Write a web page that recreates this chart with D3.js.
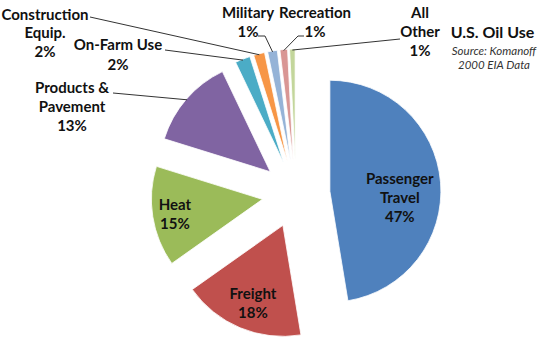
<!DOCTYPE html>
<html>
<head>
<meta charset="utf-8">
<script src="https://cdn.jsdelivr.net/npm/d3@7/dist/d3.min.js"></script>
<style>
  html, body { margin: 0; padding: 0; background: #fff; }
  svg { display: block; }
  text { font-family: Lato, "Open Sans", sans-serif; }
</style>
</head>
<body>
<svg id="chart" width="550" height="352"></svg>
<script>
// ---- data ----
const categories = ["Passenger Travel", "Freight", "Heat", "Products & Pavement",
  "On-Farm Use", "Construction Equip.", "Military", "Recreation", "All Other"];
const values = [47.4, 17.8, 14.6, 13.1, 2.2, 1.6, 1.4, 1.1, 0.8];
const labelLines = [["Passenger", "Travel"], ["Freight"], ["Heat"], ["Products &", "Pavement"],
  ["On-Farm Use"], ["Construction", "Equip."], ["Military"], ["Recreation"], ["All", "Other"]];
const colors = ["#4F81BD", "#C0504D", "#9BBB59", "#8064A2", "#4BACC6", "#F79646",
  "#95B3D7", "#D99694", "#C3D69B"];
const title = "U.S. Oil Use";
const sourceLines = ["Source: Komanoff", "2000 EIA Data"];

// ---- layout ----
const W = 550, H = 352;
const cx = 296, cy = 194, R = 111, explode = 34;
const lineGap = 18.8;
const insideLayout = { 0: { f: 0.633, da: 10.4 }, 1: { f: 0.757, da: -1.8 }, 2: { f: 0.8, da: -0.8 } };
const outsideLayout = {
  3: { x: 72, y: 93, start: [113, 93] },
  4: { x: 118, y: 50, start: [165, 50], gap: 19.5 },
  5: { x: 45, y: 19.5, start: [90, 17] },
  6: { x: 248, y: 18.3, start: [258, 36], elbow: [265, 36] },
  7: { x: 315, y: 18.3, start: [304, 36], elbow: [298, 36] },
  8: { x: 420, y: 18.3, start: [400, 39] }
};

const svg = d3.select("#chart");
const g = svg.append("g").attr("transform", `translate(${cx},${cy})`);

const pie = d3.pie().sort(null).value(d => d.value);
const data = categories.map((c, i) => ({ name: c, value: values[i], i }));
const arcs = pie(data);
const arc = d3.arc().innerRadius(0).outerRadius(R);
const polar = (rad, ang) => [rad * Math.sin(ang), -rad * Math.cos(ang)];
const rad = deg => deg * Math.PI / 180;

arcs.forEach(a => {
  const mid = (a.startAngle + a.endAngle) / 2;
  const [ox, oy] = polar(explode, mid);
  a.ox = ox; a.oy = oy; a.mid = mid;
});

g.selectAll("path.slice").data(arcs).enter().append("path")
  .attr("class", "slice")
  .attr("d", arc)
  .attr("transform", d => `translate(${d.ox},${d.oy})`)
  .attr("fill", (d, i) => colors[i])
  .attr("stroke", "#fff")
  .attr("stroke-width", 0.8);

const pct = v => Math.round(v) + "%";

// inside labels
arcs.forEach((a, i) => {
  const L = insideLayout[i];
  if (!L) return;
  const [px, py] = polar(R * L.f, a.mid + rad(L.da));
  const x = a.ox + px, y = a.oy + py;
  const lines = labelLines[i].concat([pct(a.data.value)]);
  const n = lines.length;
  const t = g.append("text").attr("text-anchor", "middle")
    .attr("font-size", 15).attr("font-weight", "bold").attr("fill", "#111");
  lines.forEach((s, k) => {
    t.append("tspan").attr("x", x).attr("y", y + (k - (n - 1) / 2) * lineGap + 5).text(s);
  });
});

// outside labels with leader lines
arcs.forEach((a, i) => {
  const L = outsideLayout[i];
  if (!L) return;
  const lines = labelLines[i].concat([pct(a.data.value)]);
  const gap = L.gap || lineGap;
  const t = svg.append("text").attr("text-anchor", "middle")
    .attr("font-size", 15).attr("font-weight", "bold").attr("fill", "#111");
  lines.forEach((s, k) => {
    t.append("tspan").attr("x", L.x).attr("y", L.y + k * gap).text(s);
  });
  const [ex, ey] = polar(R - 1, a.mid);
  const end = [cx + a.ox + ex, cy + a.oy + ey];
  const pts = [L.start];
  if (L.elbow) pts.push(L.elbow);
  pts.push(end);
  svg.append("path")
    .attr("d", d3.line()(pts))
    .attr("fill", "none").attr("stroke", "#333").attr("stroke-width", 1);
});

// title
svg.append("text").attr("x", 492.5).attr("y", 37.5).attr("text-anchor", "middle")
  .attr("font-size", 16).attr("font-weight", "bold").attr("fill", "#111").text(title);
sourceLines.forEach((s, k) => {
  svg.append("text").attr("x", 494).attr("y", 54.5 + k * 14).attr("text-anchor", "middle")
    .attr("font-size", 11.5).attr("font-style", "italic").attr("fill", "#333").text(s);
});
</script>
</body>
</html>
